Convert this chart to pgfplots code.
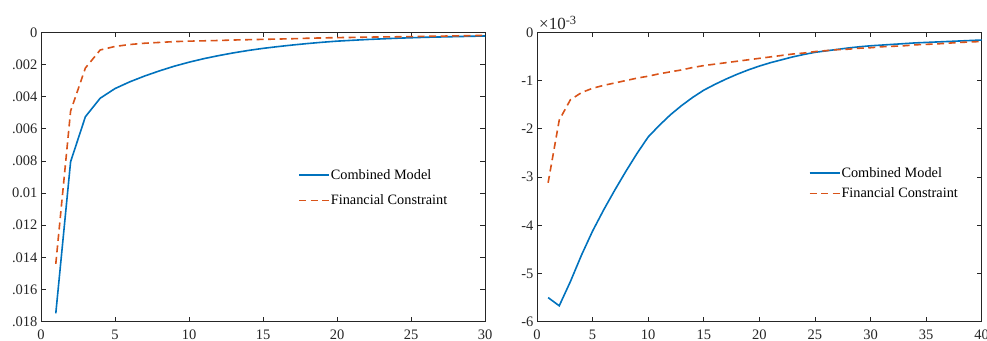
\documentclass[border=0pt]{standalone}
\usepackage{fontspec}
\setmainfont{Liberation Serif}
\usepackage{pgfplots}
\pgfplotsset{compat=1.18}
\definecolor{mblue}{RGB}{0,114,189}
\definecolor{morange}{RGB}{217,83,25}
\definecolor{mgray}{RGB}{38,38,38}
\pgfplotsset{
  mstyle/.style={
    scale only axis,
    clip mode=individual,
    axis line style={mgray, line width=0.6bp},
    tick style={mgray, line width=0.6bp},
    major tick length=5bp,
    tick align=inside,
    xtick pos=both, ytick pos=both,
    ticklabel style={font=\fontsize{14.5bp}{16bp}\selectfont, text=mgray},
    xticklabel style={yshift=-4.5bp},
    /pgf/number format/assume math mode=true,
    legend cell align=left,
    legend image code/.code={\draw[##1] (0bp,0bp) -- (30bp,0bp);},
  },
  mline/.style={mblue, line width=1.6bp},
  oline/.style={morange, line width=1.6bp, dash pattern=on 7bp off 4.5bp},
}
\begin{document}
\begin{tikzpicture}
\useasboundingbox (0,0) rectangle (987bp,341bp);
\begin{axis}[mstyle,
  at={(41bp,19.3bp)}, anchor=south west,
  width=444bp, height=289.4bp,
  xmin=0, xmax=30, ymin=-0.018, ymax=0,
  xtick={0,5,10,15,20,25,30},
  ytick={-0.018,-0.016,-0.014,-0.012,-0.01,-0.008,-0.006,-0.004,-0.002,0},
  yticklabels={.018,.016,.014,.012,0.01,.008,.006,.004,.002,0},
  scaled y ticks=false,
  legend style={at={(rel axis cs:0.579,0.53)}, anchor=north west, draw=none, fill=none,
    inner sep=0pt, row sep=12bp, font=\fontsize{14.3bp}{16bp}\selectfont,
    nodes={inner sep=1pt, text=black}},
]
\addplot[mline] coordinates {
(1,-0.01748) (2,-0.00805) (3,-0.00525) (4,-0.0041) (5,-0.0035) (6,-0.00308) (7,-0.00272)
(8,-0.00240) (9,-0.00211) (10,-0.00186) (11,-0.00164) (12,-0.00145) (13,-0.00128)
(14,-0.00113) (15,-0.00100) (16,-0.00089) (17,-0.00079) (18,-0.00070) (19,-0.00062)
(20,-0.00055) (21,-0.00050) (22,-0.00045) (23,-0.00041) (24,-0.00037) (25,-0.00034)
(26,-0.00031) (27,-0.00029) (28,-0.00027) (29,-0.00025) (30,-0.00023)};
\addlegendentry{Combined Model}
\addplot[oline] coordinates {
(1,-0.0144) (2,-0.0049) (3,-0.00222) (4,-0.0011) (5,-0.00088) (6,-0.00076) (7,-0.00068)
(8,-0.00063) (9,-0.00058) (10,-0.00055) (11,-0.00053) (12,-0.00051) (13,-0.00048)
(14,-0.00046) (15,-0.00044) (16,-0.00042) (17,-0.00040) (18,-0.00037) (19,-0.00035)
(20,-0.00033) (21,-0.00032) (22,-0.00030) (23,-0.00029) (24,-0.00028) (25,-0.00027)
(26,-0.00025) (27,-0.00024) (28,-0.00022) (29,-0.00021) (30,-0.00019)};
\addlegendentry{Financial Constraint}
\end{axis}
\begin{axis}[mstyle,
  at={(537bp,19.3bp)}, anchor=south west,
  width=444.7bp, height=289.4bp,
  xmin=0, xmax=40, ymin=-6, ymax=0,
  xtick={0,5,10,15,20,25,30,35,40},
  ytick={-6,-5,-4,-3,-2,-1,0},
  yticklabels={-6,-5,-4,-3,-2,-1,0},
  legend style={at={(rel axis cs:0.611,0.538)}, anchor=north west, draw=none, fill=none,
    inner sep=0pt, row sep=7bp, font=\fontsize{14.3bp}{16bp}\selectfont,
    nodes={inner sep=1pt, text=black}},
]
\addplot[mline] coordinates {
(1,-5.50) (2,-5.67) (3,-5.17) (4,-4.62) (5,-4.12) (6,-3.68) (7,-3.27) (8,-2.88) (9,-2.51)
(10,-2.17) (11,-1.93) (12,-1.71) (13,-1.52) (14,-1.35) (15,-1.20) (16,-1.08) (17,-0.97)
(18,-0.87) (19,-0.78) (20,-0.70) (21,-0.63) (22,-0.57) (23,-0.51) (24,-0.46) (25,-0.415)
(26,-0.385) (27,-0.355) (28,-0.325) (29,-0.30) (30,-0.28) (31,-0.265) (32,-0.25) (33,-0.235)
(34,-0.22) (35,-0.21) (36,-0.20) (37,-0.19) (38,-0.18) (39,-0.17) (40,-0.16)};
\addlegendentry{Combined Model}
\addplot[oline] coordinates {
(1,-3.12) (2,-1.82) (3,-1.40) (4,-1.25) (5,-1.16) (6,-1.10) (7,-1.05) (8,-1.00) (9,-0.95)
(10,-0.91) (11,-0.86) (12,-0.82) (13,-0.78) (14,-0.73) (15,-0.69) (16,-0.66) (17,-0.63)
(18,-0.60) (19,-0.57) (20,-0.54) (21,-0.51) (22,-0.48) (23,-0.45) (24,-0.43) (25,-0.40)
(26,-0.38) (27,-0.36) (28,-0.35) (29,-0.33) (30,-0.32) (31,-0.30) (32,-0.29) (33,-0.28)
(34,-0.26) (35,-0.25) (36,-0.24) (37,-0.225) (38,-0.21) (39,-0.20) (40,-0.19)};
\addlegendentry{Financial Constraint}
\node[anchor=base west, inner sep=0pt, text=mgray]
  at ([xshift=2bp,yshift=3.3bp]rel axis cs:0,1) {\fontsize{17bp}{19bp}\selectfont ×10\raisebox{5bp}{\fontsize{12.5bp}{14bp}\selectfont -3}};
\end{axis}
\end{tikzpicture}
\end{document}
